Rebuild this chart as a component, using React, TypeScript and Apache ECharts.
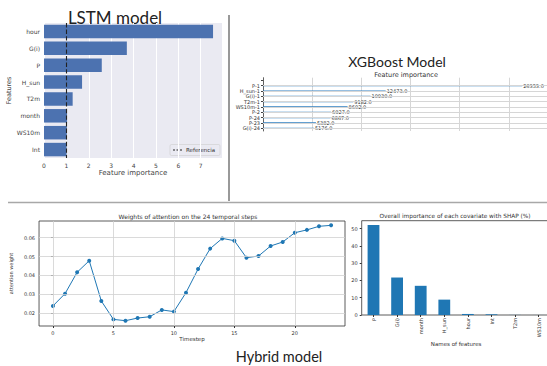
import React, { useEffect, useRef } from "react";
import * as echarts from "echarts";

// LSTM model: permutation feature importance
const lstmFeatures = ["hour", "G(i)", "P", "H_sun", "T2m", "month", "WS10m", "Int"];
const lstmValues = [7.55, 3.7, 2.58, 1.7, 1.28, 1.03, 1.02, 1.01];
const lstmTicks = [0, 1, 2, 3, 4, 5, 6, 7];
const referenceValue = 1;

// XGBoost model: feature importance (F score)
const xgbFeatures = ["P-1", "H_sun-1", "G(i)-1", "T2m-1", "WS10m-1", "P-2", "P-24", "P-23", "G(i)-24"];
const xgbValues = [26353, 12473, 10930, 9182, 8602, 6927, 6867, 5382, 5176];

// Hybrid model: attention weights on 24 temporal steps
const timesteps = [0, 1, 2, 3, 4, 5, 6, 7, 8, 9, 10, 11, 12, 13, 14, 15, 16, 17, 18, 19, 20, 21, 22, 23];
const attentionWeights = [
  0.0239, 0.0304, 0.0417, 0.0478, 0.0265, 0.0168, 0.0161, 0.0175, 0.0182, 0.0218, 0.0209, 0.0309,
  0.0434, 0.0542, 0.0596, 0.0584, 0.0494, 0.0503, 0.0556, 0.0577, 0.0626, 0.0641, 0.066, 0.0665,
];
const attentionXTicks = [0, 5, 10, 15, 20];
const attentionYTicks = [0.02, 0.03, 0.04, 0.05, 0.06];

// Hybrid model: SHAP importance (%)
const shapFeatures = ["P", "G(i)", "month", "H_sun", "hour", "Int", "T2m", "WS10m"];
const shapValues = [52.1, 21.7, 16.9, 8.9, 0.6, 0.4, 0.05, 0.02];
const shapTicks = [0, 10, 20, 30, 40, 50];

const MPL = "'DejaVu Sans', sans-serif";
const TITLE = "Lato, 'Open Sans', sans-serif";

export default function App() {
  const ref = useRef<HTMLDivElement>(null);

  useEffect(() => {
    if (!ref.current) return;
    const chart = echarts.init(ref.current, undefined, { renderer: "svg" });

    const xgbAxisData = ["", ...xgbFeatures];
    const xgbSeriesData = ["-", ...xgbValues];

    const option: any = {
      animation: false,
      backgroundColor: "#ffffff",
      textStyle: { fontFamily: MPL },
      grid: [
        { left: 44, top: 23, width: 178, height: 135, show: true, backgroundColor: "#eaeaf2", borderWidth: 0 },
        { left: 263, top: 77.7, width: 295, height: 53.3, show: false },
        { left: 30, top: 221, width: 315, height: 105, show: true, borderColor: "#333", borderWidth: 0.8 },
        { left: 361.7, top: 220.7, width: 188.8, height: 94.3, show: true, borderColor: "#333", borderWidth: 0.8 },
      ],
      xAxis: [
        {
          gridIndex: 0, type: "value", min: 0, max: 7.95, interval: 1,
          axisLine: { show: false }, axisTick: { show: false },
          axisLabel: { fontSize: 6, color: "#444", margin: 4, customValues: lstmTicks, fontFamily: MPL },
          splitLine: { show: true, lineStyle: { color: "#ffffff", width: 1 } },
          name: "Feature importance", nameLocation: "middle", nameGap: 11,
          nameTextStyle: { fontSize: 7, color: "#444", fontFamily: MPL },
        },
        {
          gridIndex: 1, type: "value", min: 0, max: 30000, interval: 5000,
          axisLine: { show: false }, axisTick: { show: false }, axisLabel: { show: false },
          splitLine: { show: true, lineStyle: { color: "#d6d6d6", width: 1 } },
        },
        {
          gridIndex: 2, type: "value", min: -1.15, max: 24.15,
          axisLine: { show: false },
          axisTick: { show: true, customValues: attentionXTicks, length: 2, lineStyle: { color: "#333" } },
          axisLabel: { fontSize: 5, color: "#333", margin: 4, customValues: attentionXTicks, fontFamily: MPL },
          splitLine: { show: false },
          name: "Timestep", nameLocation: "middle", nameGap: 10,
          nameTextStyle: { fontSize: 5.5, color: "#333", fontFamily: MPL },
        },
        {
          gridIndex: 3, type: "category", data: shapFeatures,
          axisLine: { show: false },
          axisTick: { show: true, alignWithLabel: true, length: 2, lineStyle: { color: "#333" } },
          axisLabel: { fontSize: 5, color: "#333", rotate: 90, margin: 3, interval: 0, fontFamily: MPL },
          name: "Names of features", nameLocation: "middle", nameGap: 20,
          nameTextStyle: { fontSize: 5.5, color: "#333", fontFamily: MPL },
        },
      ],
      yAxis: [
        {
          gridIndex: 0, type: "category", data: lstmFeatures, inverse: true,
          axisLine: { show: false }, axisTick: { show: false },
          axisLabel: { fontSize: 6, color: "#444", margin: 4, fontFamily: MPL },
          name: "Features", nameLocation: "middle", nameGap: 25, nameRotate: 90,
          nameTextStyle: { fontSize: 6.5, color: "#444", fontFamily: MPL },
        },
        {
          gridIndex: 1, type: "category", data: xgbAxisData, inverse: true,
          axisLine: { show: true, lineStyle: { color: "#444", width: 0.8 } },
          axisTick: { show: true, alignWithLabel: true, length: 2, lineStyle: { color: "#444" } },
          axisLabel: { fontSize: 5, color: "#333", margin: 3, interval: 0, fontFamily: MPL },
          splitLine: { show: false },
        },
        {
          gridIndex: 2, type: "value", min: 0.0133, max: 0.0688,
          axisLine: { show: false },
          axisTick: { show: true, customValues: attentionYTicks, length: 2, lineStyle: { color: "#333" } },
          axisLabel: {
            fontSize: 5, color: "#333", margin: 4, customValues: attentionYTicks, fontFamily: MPL,
            formatter: (v: number) => v.toFixed(2),
          },
          splitLine: { show: false },
          name: "attention weight", nameLocation: "middle", nameGap: 15, nameRotate: 90,
          nameTextStyle: { fontSize: 5, color: "#333", fontFamily: MPL },
        },
        {
          gridIndex: 3, type: "value", min: 0, max: 54.6,
          axisLine: { show: false },
          axisTick: { show: true, customValues: shapTicks, length: 2, lineStyle: { color: "#333" } },
          axisLabel: { fontSize: 5, color: "#333", margin: 4, customValues: shapTicks, fontFamily: MPL },
          splitLine: { show: false },
        },
      ],
      series: [
        {
          type: "bar", xAxisIndex: 0, yAxisIndex: 0, data: lstmValues,
          barCategoryGap: "20%", itemStyle: { color: "#4c72b0" }, z: 2,
          markLine: {
            silent: true, symbol: "none", label: { show: false },
            lineStyle: { color: "#222", type: "dashed", width: 1.1 },
            data: [{ xAxis: referenceValue }],
          },
        },
        {
          type: "line", xAxisIndex: 1, yAxisIndex: 1, data: xgbSeriesData,
          symbol: "none", lineStyle: { opacity: 0 }, z: 1, silent: true,
          markLine: {
            silent: true, symbol: "none", label: { show: false },
            lineStyle: { color: "#d6d6d6", type: "solid", width: 1 },
            data: xgbFeatures.map((f) => ({ yAxis: f })),
          },
        },
        {
          type: "bar", xAxisIndex: 1, yAxisIndex: 1, data: xgbSeriesData,
          barWidth: 1.3, itemStyle: { color: "#2f7fc1" }, z: 3,
          label: {
            show: true, position: "right", distance: 1, fontSize: 5, color: "#333", fontFamily: MPL,
            formatter: (p: any) => Number(p.value).toFixed(1),
          },
        },
        {
          type: "line", xAxisIndex: 2, yAxisIndex: 2,
          data: timesteps.map((t, i) => [t, attentionWeights[i]]),
          symbol: "none", lineStyle: { opacity: 0 }, z: 1, silent: true,
          markLine: {
            silent: true, symbol: "none", label: { show: false },
            lineStyle: { color: "#d0d0d0", type: "solid", width: 0.8 },
            data: [
              ...attentionXTicks.map((v) => ({ xAxis: v })),
              ...attentionYTicks.map((v) => ({ yAxis: v })),
            ],
          },
        },
        {
          type: "line", xAxisIndex: 2, yAxisIndex: 2,
          data: timesteps.map((t, i) => [t, attentionWeights[i]]),
          symbol: "circle", symbolSize: 4, z: 3,
          itemStyle: { color: "#1f77b4" }, lineStyle: { color: "#1f77b4", width: 1 },
        },
        {
          type: "bar", xAxisIndex: 3, yAxisIndex: 3, data: shapValues,
          barWidth: "50%", itemStyle: { color: "#1f77b4" },
        },
      ],
      graphic: [
        { type: "line", shape: { x1: 229, y1: 15, x2: 229, y2: 201 }, style: { stroke: "#555", lineWidth: 1.2 } },
        { type: "line", shape: { x1: 8, y1: 202.5, x2: 560, y2: 202.5 }, style: { stroke: "#a8a8a8", lineWidth: 1.5 } },
        {
          type: "text", x: 115, y: 17,
          style: { text: "LSTM model", fontSize: 17, fontFamily: TITLE, fill: "#222", align: "center", verticalAlign: "middle" },
        },
        {
          type: "text", x: 397, y: 61,
          style: { text: "XGBoost Model", fontSize: 14, fontFamily: TITLE, fill: "#222", align: "center", verticalAlign: "middle" },
        },
        {
          type: "text", x: 406, y: 75,
          style: { text: "Feature importance", fontSize: 6.5, fontFamily: MPL, fill: "#333", align: "center", verticalAlign: "middle" },
        },
        {
          type: "text", x: 188, y: 216,
          style: { text: "Weights of attention on the 24 temporal steps", fontSize: 6, fontFamily: MPL, fill: "#333", align: "center", verticalAlign: "middle" },
        },
        {
          type: "text", x: 455, y: 216,
          style: { text: "Overall importance of each covariate with SHAP (%)", fontSize: 5.8, fontFamily: MPL, fill: "#333", align: "center", verticalAlign: "middle" },
        },
        {
          type: "text", x: 279, y: 356,
          style: { text: "Hybrid model", fontSize: 14.5, fontFamily: TITLE, fill: "#222", align: "center", verticalAlign: "middle" },
        },
        {
          type: "rect", shape: { x: 170, y: 144.5, width: 50, height: 11, r: 1.5 },
          style: { fill: "rgba(234,234,242,0.9)", stroke: "#cccccc", lineWidth: 0.6 },
        },
        {
          type: "line", shape: { x1: 173, y1: 150, x2: 183, y2: 150 },
          style: { stroke: "#222", lineWidth: 1, lineDash: [2, 1.5] },
        },
        {
          type: "text", x: 186, y: 150,
          style: { text: "Referencia", fontSize: 5.5, fontFamily: MPL, fill: "#333", align: "left", verticalAlign: "middle" },
        },
      ],
    };

    chart.setOption(option);
    return () => chart.dispose();
  }, []);

  return (
    <div style={{ position: "fixed", left: 0, top: 0, width: 547, height: 366, overflow: "hidden", background: "#fff" }}>
      <div ref={ref} style={{ width: 560, height: 366 }} />
    </div>
  );
}
